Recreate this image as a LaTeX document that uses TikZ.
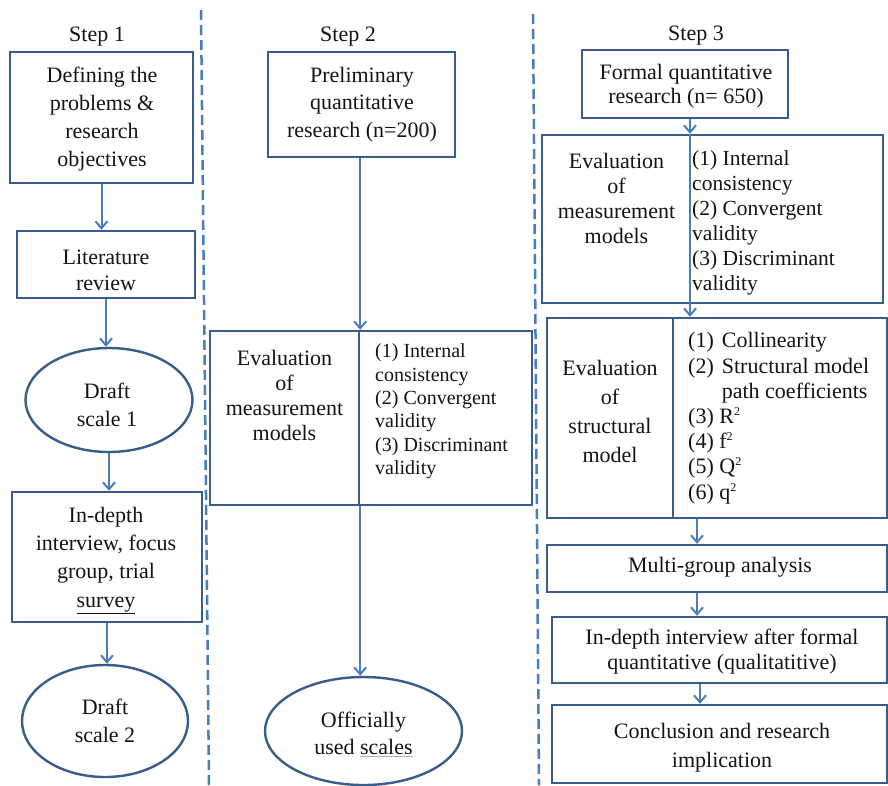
\documentclass[tikz,border=0pt]{standalone}
\usepackage{fontspec}
\setmainfont{Liberation Serif}
\usetikzlibrary{arrows.meta,shapes.geometric}
\definecolor{bordc}{HTML}{385D8A}
\definecolor{arrc}{HTML}{4A7EBB}
\definecolor{txtc}{HTML}{141414}
\definecolor{ulc}{HTML}{9DB3D6}
\newcommand{\supsq}{\raisebox{8pt}{\fontsize{12}{12}\selectfont 2}}
\tikzset{
  box/.style={draw=bordc, line width=2.4pt, inner sep=0pt},
  ell/.style={draw=bordc, line width=2.4pt, ellipse, inner sep=0pt},
  txt/.style={font=\fontsize{22}{27}\selectfont, align=center, text=txtc, inner sep=0pt},
  arr/.style={draw=arrc, line width=2pt, -{Straight Barb[length=7pt,width=12pt,line width=2pt]}},
  divline/.style={draw=arrc, line width=2pt},
  sepline/.style={draw=arrc, line width=2.5pt, dash pattern=on 10pt off 5pt},
}
\begin{document}
\begin{tikzpicture}[x=1pt,y=-1pt]
\useasboundingbox (0,0) rectangle (888,785);
\fill[white] (0,0) rectangle (888,785);

% separators
\coordinate (sa1) at (201,10);
\coordinate (sb1) at (209,785);
\coordinate (sa2) at (533,14);
\coordinate (sb2) at (539,785);
\draw[sepline] (sa1) -- (sb1);
\draw[sepline] (sa2) -- (sb2);

% ---------- Step 1 ----------
\node[txt] (s1) at (97,37) {Step 1};
\node[box, minimum width=183pt, minimum height=131pt] (d1) at (101.5,117.5) {};
\node[txt, font=\fontsize{22}{28}\selectfont] (d1t) at (102,119.5) {Defining the\\problems \&\\research\\objectives};
\node[box, minimum width=178pt, minimum height=67pt] (lit) at (106,264.5) {};
\node[txt, font=\fontsize{22}{25.5}\selectfont] (litt) at (106,270.5) {Literature\\review};
\node[ell, minimum width=167pt, minimum height=104pt] (e1) at (109,400) {};
\node[txt, font=\fontsize{22}{28}\selectfont] (e1t) at (107,405) {Draft\\scale 1};
\node[box, minimum width=190pt, minimum height=130pt] (id1) at (107,557) {};
\node[txt, font=\fontsize{22}{28.3}\selectfont] (id1t) at (106,560.5) {In-depth\\interview, focus\\group, trial\\\underline{survey}};
\node[ell, minimum width=166pt, minimum height=112pt] (e2) at (105,721) {};
\node[txt, font=\fontsize{22}{28}\selectfont] (e2t) at (105,721) {Draft\\scale 2};

\draw[arr] (d1.south) -- (d1.south |- lit.north);
\draw[arr] (lit.south) -- (lit.south |- e1.north);
\draw[arr] (e1.south) -- (e1.south |- id1.north);
\draw[arr] (id1.south) -- (id1.south |- e2.north);

% ---------- Step 2 ----------
\node[txt] (s2) at (348,37) {Step 2};
\node[box, minimum width=187pt, minimum height=105pt] (pre) at (361.5,104.5) {};
\node[txt, font=\fontsize{22}{27.5}\selectfont] (pret) at (362,104.5) {Preliminary\\quantitative\\research (n=200)};
\node[box, minimum width=149pt, minimum height=174pt] (ev2l) at (284.5,418) {};
\node[box, minimum width=173pt, minimum height=174pt] (ev2r) at (445.5,418) {};
\node[txt, font=\fontsize{22}{25}\selectfont] (ev2lt) at (284.5,395.5) {Evaluation\\of\\measurement\\models};
\node[txt, align=left, anchor=west, font=\fontsize{20}{23.4}\selectfont] (ev2rt) at (375,411.5) {(1) Internal\\consistency\\(2) Convergent\\validity\\(3) Discriminant\\validity};
\node[ell, minimum width=197pt, minimum height=108pt] (e3) at (363.5,731) {};
\node[txt, font=\fontsize{22}{27}\selectfont] (e3t) at (363.5,734) {Officially\\used {\color{ulc}\underline{\color{txtc}scales}}};

\draw[arr] (ev2l.north east |- pre.south) -- (ev2l.north east);
\draw[arr] (ev2l.south east) -- (ev2l.south east |- e3.north);

% ---------- Step 3 ----------
\node[txt] (s3) at (696,36) {Step 3};
\node[box, minimum width=206pt, minimum height=68pt] (fq) at (685,84) {};
\node[txt, font=\fontsize{22}{24}\selectfont] (fqt) at (686,86.5) {Formal quantitative\\research (n= 650)};
\node[box, minimum width=341pt, minimum height=168pt] (ev3) at (712.5,219) {};
\node[txt, font=\fontsize{22}{25}\selectfont] (ev3lt) at (616.5,198.5) {Evaluation\\of\\measurement\\models};
\node[txt, align=left, anchor=west, font=\fontsize{21.5}{25}\selectfont] (ev3rt) at (692,222.5) {(1) Internal\\consistency\\(2) Convergent\\validity\\(3) Discriminant\\validity};

\node[box, minimum width=126pt, minimum height=200pt] (stl) at (610,418) {};
\node[box, minimum width=214pt, minimum height=200pt] (str) at (780,418) {};
\node[txt, font=\fontsize{22}{29}\selectfont] (stlt) at (610,411) {Evaluation\\of\\structural\\model};
\node[txt, anchor=west, font=\fontsize{22}{25.2}\selectfont] (strt) at (688,418.5) {\begin{tabular}{@{}l@{\hspace{8pt}}l@{}}(1)&Collinearity\\(2)&Structural model\\&path coefficients\\\multicolumn{2}{@{}l@{}}{(3) R\supsq}\\\multicolumn{2}{@{}l@{}}{(4) f\supsq}\\\multicolumn{2}{@{}l@{}}{(5) Q\supsq}\\\multicolumn{2}{@{}l@{}}{(6) q\supsq}\end{tabular}};

\node[box, minimum width=340pt, minimum height=47pt] (mg) at (717,568.5) {};
\node[txt] (mgt) at (720,567) {Multi-group analysis};
\node[box, minimum width=335pt, minimum height=66pt] (id3) at (719.5,650) {};
\node[txt, font=\fontsize{22}{25}\selectfont] (id3t) at (722,652) {In-depth interview after formal\\quantitative (qualitatitive)};
\node[box, minimum width=335pt, minimum height=78pt] (cc) at (719.5,744) {};
\node[txt, font=\fontsize{22}{29}\selectfont] (cct) at (722,747.5) {Conclusion and research\\implication};

\coordinate (c3) at (690,0);
\coordinate (c4) at (697,0);
\coordinate (c5) at (700,0);
\draw[arr] (c3 |- fq.south) -- (c3 |- ev3.north);
\draw[divline] (c3 |- ev3.north) -- (c3 |- ev3.south);
\draw[arr] (c3 |- ev3.south) -- (c3 |- str.north);
\draw[arr] (c4 |- str.south) -- (c4 |- mg.north);
\draw[arr] (c4 |- mg.south) -- (c4 |- id3.north);
\draw[arr] (c5 |- id3.south) -- (c5 |- cc.north);
\end{tikzpicture}
\end{document}
